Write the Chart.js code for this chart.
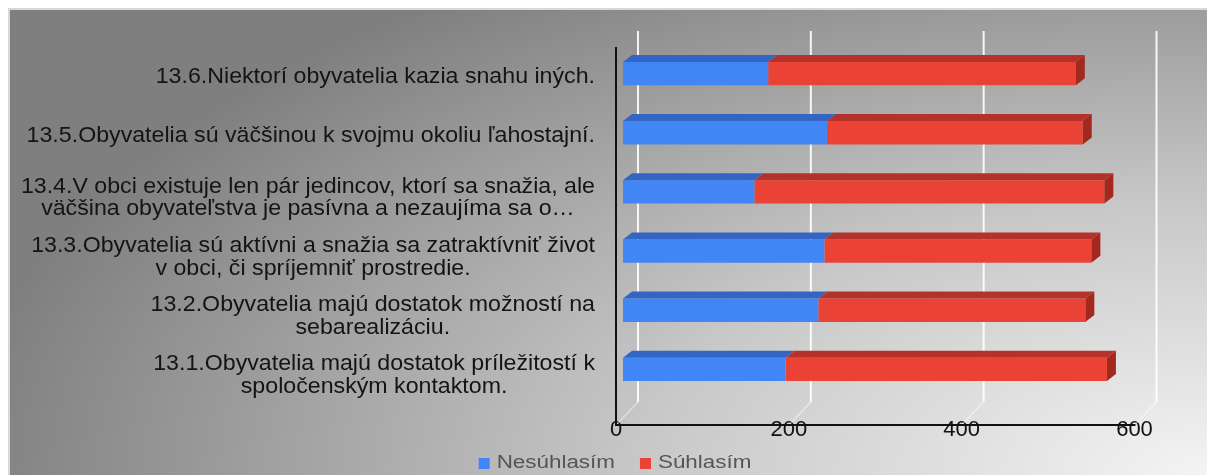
<!DOCTYPE html>
<html>
<head>
<meta charset="utf-8">
<script src="https://cdn.jsdelivr.net/npm/chart.js@4/dist/chart.umd.min.js"></script>
<style>
  html, body { margin: 0; padding: 0; background: #ffffff; }
  #wrap { position: relative; width: 1207px; height: 475px; overflow: hidden; }
  #panel {
    position: absolute; left: 8px; top: 8px; right: 0; bottom: 0;
    border-left: 2px solid #d8d8d8; border-top: 2px solid #d8d8d8;
    background: radial-gradient(1250px 600px at 100% 100%, #f4f4f4 0%, #c8c8c8 45%, #7f7f7f 100%);
  }
  #c { position: absolute; left: 0; top: 0; }
</style>
</head>
<body>
<div id="wrap">
  <div id="panel"></div>
  <canvas id="c" width="1207" height="475"></canvas>
</div>
<script>
// Statements (top to bottom), each split into the lines it is printed on
const categories = [
  ['13.6.Niektorí obyvatelia kazia snahu iných.'],
  ['13.5.Obyvatelia sú väčšinou k svojmu okoliu ľahostajní.'],
  ['13.4.V obci existuje len pár jedincov, ktorí sa snažia, ale', 'väčšina obyvateľstva je pasívna a nezaujíma sa o…'],
  ['13.3.Obyvatelia sú aktívni a snažia sa zatraktívniť život', 'v obci, či spríjemniť prostredie.'],
  ['13.2.Obyvatelia majú dostatok možností na', 'sebarealizáciu.'],
  ['13.1.Obyvatelia majú dostatok príležitostí k', 'spoločenským kontaktom.']
];
const seriesNames = ['Nesúhlasím', 'Súhlasím'];
const disagree = [168, 236, 152, 233, 226, 188];
const agree    = [356, 296, 405, 309, 309, 372];
const xTicks   = [0, 200, 400, 600];

const FONT = "'Liberation Sans', Arial, sans-serif";
const frontColors = ['#4285f4', '#ea4335'];
const topColors   = ['#3366c4', '#b5322a'];
const sideColors  = ['#2c58a8', '#a3291f'];

// depth of the pseudo-3D box
const BAR_DX = 9, BAR_DY = 7;      // bar top/side faces
const WALL_DX = 15;                // back wall offset from bar plane
const FRONT_DX = -7;               // front (axis) plane offset from bar plane

const wallPlugin = {
  id: 'wall',
  beforeDatasetsDraw(chart) {
    const { ctx, chartArea: a, scales: { x } } = chart;
    const wallTop = a.top - 13, wallBottom = a.bottom + 3, front = a.bottom + 26;
    ctx.save();
    xTicks.forEach(v => {
      const px = x.getPixelForValue(v);
      ctx.strokeStyle = 'rgba(255,255,255,0.9)';
      ctx.lineWidth = 2;
      ctx.beginPath();
      ctx.moveTo(px + WALL_DX, wallTop);
      ctx.lineTo(px + WALL_DX, wallBottom);
      ctx.stroke();
      ctx.strokeStyle = 'rgba(255,255,255,0.45)';
      ctx.lineWidth = 1.5;
      ctx.beginPath();
      ctx.moveTo(px + WALL_DX, wallBottom);
      ctx.lineTo(px + FRONT_DX, front);
      ctx.stroke();
    });
    // axis lines in the front plane
    const x0 = x.getPixelForValue(xTicks[0]) + FRONT_DX;
    const x1 = x.getPixelForValue(xTicks[xTicks.length - 1]) + FRONT_DX;
    ctx.strokeStyle = '#111111';
    ctx.lineWidth = 2;
    ctx.beginPath();
    ctx.moveTo(x0, a.top + 3);
    ctx.lineTo(x0, front);
    ctx.lineTo(x1 + 1, front);
    ctx.stroke();
    ctx.restore();
  }
};

const bar3dPlugin = {
  id: 'bar3d',
  afterDatasetsDraw(chart) {
    const ctx = chart.ctx;
    const last = chart.data.datasets.length - 1;
    chart.data.datasets.forEach((ds, di) => {
      const meta = chart.getDatasetMeta(di);
      meta.data.forEach(el => {
        const { x, y, base, height } = el.getProps(['x', 'y', 'base', 'height'], true);
        const left = Math.min(x, base), right = Math.max(x, base);
        const top = y - height / 2, bottom = y + height / 2;
        ctx.save();
        ctx.fillStyle = topColors[di];
        ctx.beginPath();
        ctx.moveTo(left, top);
        ctx.lineTo(left + BAR_DX, top - BAR_DY);
        ctx.lineTo(right + BAR_DX, top - BAR_DY);
        ctx.lineTo(right, top);
        ctx.closePath();
        ctx.fill();
        if (di === last) {
          ctx.fillStyle = sideColors[di];
          ctx.beginPath();
          ctx.moveTo(right, top);
          ctx.lineTo(right + BAR_DX, top - BAR_DY);
          ctx.lineTo(right + BAR_DX, bottom - BAR_DY);
          ctx.lineTo(right, bottom);
          ctx.closePath();
          ctx.fill();
        }
        ctx.restore();
      });
    });
  }
};

// category texts: single lines right-aligned, wrapped lines centred in their block
const labelPlugin = {
  id: 'catLabels',
  afterDraw(chart) {
    const { ctx, scales: { y } } = chart;
    const rightEdge = 595, lineH = 22.5, sx = 1.03;
    ctx.save();
    ctx.font = '22.5px ' + FONT;
    ctx.fillStyle = '#141414';
    ctx.textBaseline = 'middle';
    categories.forEach((lines, i) => {
      const cy = y.getPixelForValue(i) + (lines.length > 1 ? 6 : 3);
      const widths = lines.map(l => ctx.measureText(l).width * sx);
      const blockW = Math.max(...widths);
      const cx = rightEdge - blockW / 2;
      lines.forEach((line, k) => {
        const ly = cy + (k - (lines.length - 1) / 2) * lineH;
        ctx.save();
        ctx.translate(cx, ly);
        ctx.scale(sx, 1);
        ctx.textAlign = 'center';
        ctx.fillText(line, 0, 0);
        ctx.restore();
      });
    });
    ctx.restore();
  }
};

const legendPlugin = {
  id: 'bottomLegend',
  afterDraw(chart) {
    const ctx = chart.ctx;
    const sx = 1.28, box = 11, gap = 7, itemGap = 25, cy = 463.5, centre = 615;
    ctx.save();
    ctx.font = '17.5px ' + FONT;
    ctx.textBaseline = 'middle';
    const items = seriesNames.map((n, i) => ({ n, i, w: ctx.measureText(n).width * sx }));
    const total = items.reduce((s, it) => s + box + gap + it.w, 0) + itemGap * (items.length - 1);
    let xPos = centre - total / 2;
    items.forEach(it => {
      ctx.fillStyle = frontColors[it.i];
      ctx.fillRect(xPos, cy - box / 2, box, box);
      xPos += box + gap;
      ctx.save();
      ctx.translate(xPos, cy);
      ctx.scale(sx, 1);
      ctx.fillStyle = '#555555';
      ctx.textAlign = 'left';
      ctx.fillText(it.n, 0, 0);
      ctx.restore();
      xPos += it.w + itemGap;
    });
    ctx.restore();
  }
};

new Chart(document.getElementById('c'), {
  type: 'bar',
  data: {
    labels: categories,
    datasets: [
      { label: seriesNames[0], data: disagree, backgroundColor: frontColors[0] },
      { label: seriesNames[1], data: agree, backgroundColor: frontColors[1] }
    ]
  },
  options: {
    indexAxis: 'y',
    responsive: false,
    devicePixelRatio: 1,
    animation: false,
    layout: { padding: { left: 0, right: 65.5, top: 44, bottom: 0 } },
    datasets: { bar: { categoryPercentage: 1, barPercentage: 0.394, borderWidth: 0 } },
    plugins: { legend: { display: false }, tooltip: { enabled: false } },
    scales: {
      x: {
        stacked: true,
        min: 0, max: 600,
        afterBuildTicks: s => { s.ticks = xTicks.map(v => ({ value: v })); },
        afterFit: s => { s.height = 76; },
        grid: { display: false, drawTicks: false },
        border: { display: false },
        ticks: { font: { family: FONT, size: 22 }, color: '#111111', padding: 18, labelOffset: -7 }
      },
      y: {
        stacked: true,
        afterFit: s => { s.width = 623; },
        grid: { display: false, drawTicks: false },
        border: { display: false },
        ticks: { display: false }
      }
    }
  },
  plugins: [wallPlugin, bar3dPlugin, labelPlugin, legendPlugin]
});
</script>
</body>
</html>
